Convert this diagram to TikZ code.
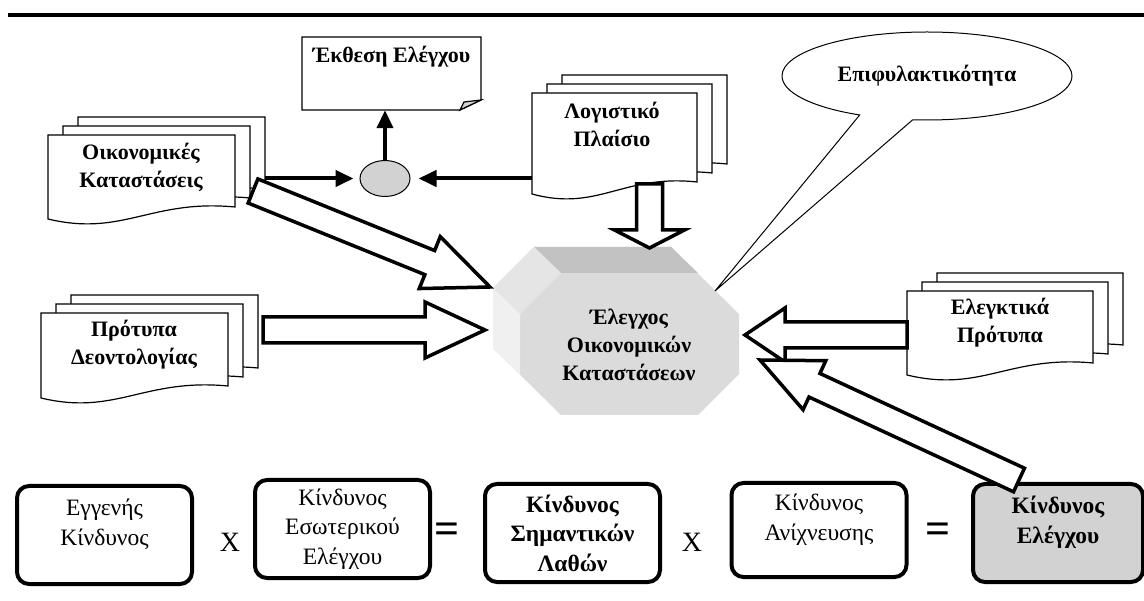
\documentclass[tikz,border=0pt]{standalone}
\usepackage{fontspec}
\setmainfont{Liberation Serif}
\usetikzlibrary{shapes.geometric,shapes.callouts,arrows.meta,calc}

\newcommand{\docpage}[4]{%
  \draw[page] ({#1},{#2+#4+12}) -- ({#1},{#2}) -- ({#1+#3},{#2}) -- ({#1+#3},{#2+#4})
    .. controls ({#1+0.55*#3},{#2+#4-8}) and ({#1+0.4*#3},{#2+#4+30}) .. ({#1},{#2+#4+12}) -- cycle;}
\newcommand{\docstack}[4]{%
  \foreach \k in {2,1,0}{\docpage{#1+15*\k}{#2-9*\k}{#3}{#4}}}
\newcommand{\fatarrow}[4]{%
  \path ($(#2)!#3pt!(#1)$) coordinate (hb);
  \draw[hollow] ($(#1)!13pt!90:(#2)$) -- ($(hb)!13pt!90:(#2)$) -- ($(hb)!#4pt!90:(#2)$) -- (#2)
    -- ($(hb)!#4pt!-90:(#2)$) -- ($(hb)!13pt!-90:(#2)$) -- ($(#1)!13pt!-90:(#2)$) -- cycle;}

\begin{document}
\begin{tikzpicture}[x=1pt, y=-1pt]
	\tikzstyle{every node} = [font=\fontsize{23.5}{29.5}\selectfont, align=center, inner sep=0pt]
	\tikzstyle{bold} = [font=\fontsize{22}{28}\selectfont\bfseries]
	\tikzstyle{boldbig} = [font=\fontsize{23.5}{29.5}\selectfont\bfseries]
	\tikzstyle{page} = [draw, fill=white, line width=1.2pt]
	\tikzstyle{hollow} = [draw, fill=white, line width=3.5pt, line join=miter]
	\tikzstyle{joinarrow} = [line width=4pt, -{Triangle[length=18pt, width=16pt]}]
	\tikzstyle{riskbox} = [draw, line width=4pt, rounded corners=12pt, minimum width=175pt, minimum height=98pt]
	\tikzstyle{sign} = [font=\fontsize{44}{44}\selectfont\bfseries]
	\tikzstyle{times} = [font=\fontsize{28}{28}\selectfont]
	\useasboundingbox (0,0) rectangle (1144,601);
	\draw [line width=4.5pt] (8,15) -- (1144,15);

	\draw [page] (302,37) -- (481,37) -- (481,100) -- (460,110) -- (302,110) -- cycle;
	\draw [page, fill=gray!35] (460,110) -- (464,102) -- (481,100) -- cycle;
	\node (report) at (391.5,73.5) [minimum width=179pt, minimum height=73pt] {};
	\node (reporttitle) at (391.5,57) [bold] {Έκθεση Ελέγχου};

	\docstack{48}{135}{187}{72}
	\node (statements) at (141,167) [bold] {Οικονομικές\\Καταστάσεις};
	\docstack{532}{93}{165}{89}
	\node (framework) at (612,124) [bold] {Λογιστικό\\Πλαίσιο};
	\docstack{41}{313}{187}{73}
	\node (ethics) at (134,345) [bold] {Πρότυπα\\Δεοντολογίας};
	\docstack{907}{291}{186}{72}
	\node (standards) at (1000,323) [bold] {Ελεγκτικά\\Πρότυπα};

	\fill [gray!28] (534,247) -- (671,247) -- (739,314) -- (739,374) -- (698,415) -- (561,415) -- (493,348) -- (493,288) -- cycle;
	\fill [gray!48] (534,247) -- (671,247) -- (698,273) -- (561,273) -- cycle;
	\fill [gray!20] (493,288) -- (534,247) -- (561,273) -- (520,314) -- cycle;
	\fill [gray!12] (493,288) -- (520,314) -- (520,374) -- (493,348) -- cycle;
	\node (audit) at (629,345) [bold] {Έλεγχος\\Οικονομικών\\Καταστάσεων};

	\coordinate (hint) at (715,291);
	\node (prudence) at (927,76) [bold, ellipse callout, draw, line width=1pt, minimum width=290pt, minimum height=88pt, callout absolute pointer={(hint)}, callout pointer arc=22] {Επιφυλακτικότητα};

	\node (join) at (385,178.5) [ellipse, draw, fill=gray!35, line width=1pt, minimum width=50pt, minimum height=36pt] {};
	\coordinate (statementsout) at (265,178.5);
	\coordinate (frameworkout) at (532,178.5);
	\draw [joinarrow, shorten >=6pt] (statementsout) -- (join);
	\draw [joinarrow, shorten >=8pt] (frameworkout) -- (join);
	\draw [joinarrow] (join) -- (join |- report.south);

	\node (inherent) at (104.5,535) [riskbox, text depth=26pt] {Εγγενής\\Κίνδυνος};
	\node (times1) at (230,542) [times] {X};
	\node (internal) at (342.5,529) [riskbox] {Κίνδυνος\\Εσωτερικού\\Ελέγχου};
	\node (equals1) at (447,533) [sign] {=};
	\node (material) at (572.5,533) [riskbox, boldbig] {Κίνδυνος\\Σημαντικών\\Λαθών};
	\node (times2) at (692,542) [times] {X};
	\node (detection) at (819,530) [riskbox, minimum height=94pt, text depth=26pt] {Κίνδυνος\\Ανίχνευσης};
	\node (equals2) at (938,533) [sign] {=};
	\node (auditrisk) at (1058,533) [riskbox, boldbig, fill=gray!35, minimum width=170pt, text depth=26pt] {Κίνδυνος\\Ελέγχου};

	\coordinate (frameworkfat) at (649.5,184);
	\coordinate (auditn) at (649.5,248);
	\fatarrow{frameworkfat}{auditn}{18}{35}
	\coordinate (statementsfat) at (253,191);
	\coordinate (auditnw) at (490,287);
	\fatarrow{statementsfat}{auditnw}{65}{28}
	\coordinate (ethicsfat) at (263,330);
	\coordinate (auditw) at (485,330);
	\fatarrow{ethicsfat}{auditw}{60}{28}
	\coordinate (standardsfat) at (907,335);
	\coordinate (audite) at (745,335);
	\fatarrow{standardsfat}{audite}{40}{27}
	\coordinate (riskfat) at (1019,480);
	\coordinate (auditse) at (760,360);
	\fatarrow{riskfat}{auditse}{60}{27}
\end{tikzpicture}
\end{document}
